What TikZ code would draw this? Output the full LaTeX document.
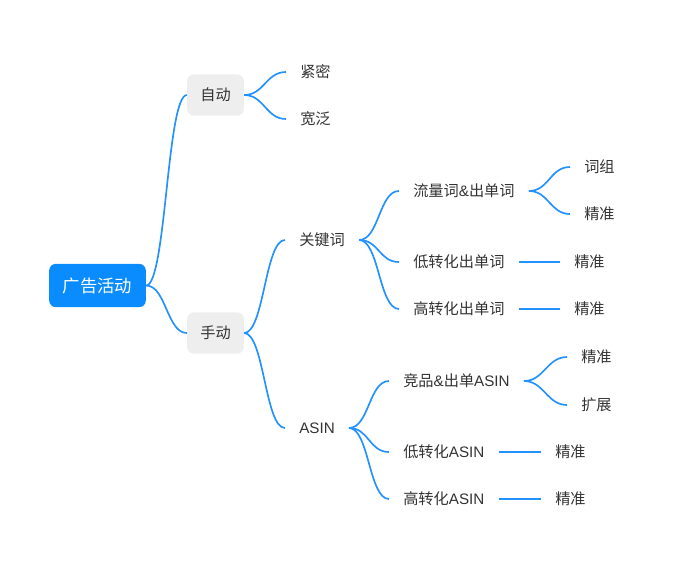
\documentclass[tikz,border=0pt]{standalone}
\usepackage{fontspec}
\setmainfont{Noto Sans CJK SC}
\newfontfamily\latinfont{Liberation Sans}
\usepackage{tikz}
\usetikzlibrary{arrows.meta, positioning}
\usepackage{xcolor}
\definecolor{rootblue}{HTML}{0A8CFF}
\definecolor{linkblue}{HTML}{2391FF}
\definecolor{boxgray}{HTML}{EEEEEE}
\definecolor{textgray}{HTML}{333333}
\newcommand{\lat}[1]{{\latinfont #1}}

\begin{document}
\begin{tikzpicture}[
		x=0.75pt, y=-0.75pt,
		every node/.style={font=\fontsize{11.4pt}{13pt}\selectfont, text=textgray},
		rootbox/.style={fill=rootblue, rounded corners=5pt, minimum width=72.5pt, minimum height=32.5pt, text=white, font=\fontsize{13pt}{15pt}\selectfont},
		topicbox/.style={fill=boxgray, rounded corners=5pt, minimum width=42.5pt, minimum height=31pt},
		leaf/.style={anchor=west, inner xsep=10.5pt, inner ysep=2pt},
		link/.style={draw=linkblue, line width=1.25pt}
	]
	\useasboundingbox (0,-2) rectangle (680,566);
	% main topics
	\node[rootbox] (root) at (97.5,283.5) {广告活动};
	\node[topicbox] (auto) at (215.5,93) {自动};
	\node[topicbox] (manual) at (215.5,331) {手动};
	% auto branch
	\node[leaf] (tight) at (286,70) {紧密};
	\node[leaf] (broad) at (286,117) {宽泛};
	% manual branch
	\node[leaf] (kw) at (285,238) {关键词};
	\node[leaf] (asin) at (285,426) {\lat{ASIN}};
	\node[leaf] (kwflow) at (399,189) {流量词\lat{\&}出单词};
	\node[leaf] (kwlow) at (399,260) {低转化出单词};
	\node[leaf] (kwhigh) at (399,307) {高转化出单词};
	\node[leaf] (flowgroup) at (570,165) {词组};
	\node[leaf] (flowexact) at (570,212) {精准};
	\node[leaf] (lowexact) at (560,260) {精准};
	\node[leaf] (highexact) at (560,307) {精准};
	\node[leaf] (asincomp) at (389,379) {竞品\lat{\&}出单\lat{ASIN}};
	\node[leaf] (asinlow) at (389,450) {低转化\lat{ASIN}};
	\node[leaf] (asinhigh) at (389,497) {高转化\lat{ASIN}};
	\node[leaf] (compexact) at (567,355) {精准};
	\node[leaf] (compexpand) at (567,403) {扩展};
	\node[leaf] (alowexact) at (541,450) {精准};
	\node[leaf] (ahighexact) at (541,497) {精准};
	% curved links
	\foreach \from/\to in {root/auto, root/manual, auto/tight, auto/broad, manual/kw, manual/asin,
		kw/kwflow, kw/kwlow, kw/kwhigh, kwflow/flowgroup, kwflow/flowexact,
		asin/asincomp, asin/asinlow, asin/asinhigh, asincomp/compexact, asincomp/compexpand}
		\draw[link] (\from.east) .. controls +(20,0) and +(-20,0) .. (\to.west);
	% straight links
	\draw[link] (kwlow) -- (lowexact);
	\draw[link] (kwhigh) -- (highexact);
	\draw[link] (asinlow) -- (alowexact);
	\draw[link] (asinhigh) -- (ahighexact);
\end{tikzpicture}
\end{document}
